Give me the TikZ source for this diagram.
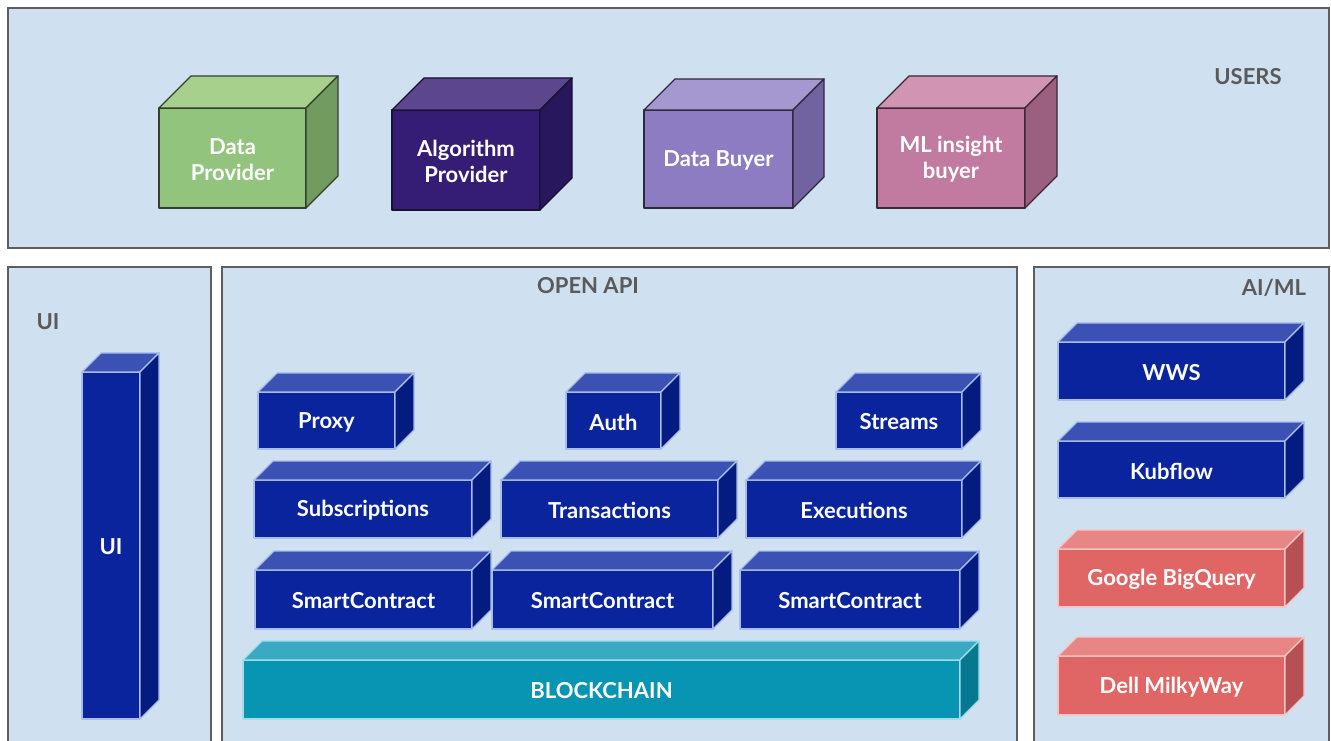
\documentclass[tikz,border=0pt]{standalone}
\usepackage{fontspec}
\setmainfont{Lato}

% panel colours
\definecolor{panelfill}{HTML}{CFE0F1}
\definecolor{paneledge}{HTML}{5E5E5E}
\definecolor{titlegray}{HTML}{5A5A5A}
% palettes: F = front, T = top, S = side, E = edge
\definecolor{grnF}{HTML}{93C47D}\definecolor{grnT}{HTML}{A8D08D}\definecolor{grnS}{HTML}{729B60}\definecolor{grnE}{HTML}{33402C}
\definecolor{indF}{HTML}{351C75}\definecolor{indT}{HTML}{5C478F}\definecolor{indS}{HTML}{28175C}\definecolor{indE}{HTML}{1A1030}
\definecolor{lavF}{HTML}{8E7CC3}\definecolor{lavT}{HTML}{A597D0}\definecolor{lavS}{HTML}{70639F}\definecolor{lavE}{HTML}{2E2A3C}
\definecolor{pnkF}{HTML}{C27BA0}\definecolor{pnkT}{HTML}{D194B3}\definecolor{pnkS}{HTML}{9B6080}\definecolor{pnkE}{HTML}{3C2834}
\definecolor{bluF}{HTML}{0A249E}\definecolor{bluT}{HTML}{3B51B4}\definecolor{bluS}{HTML}{041B7F}\definecolor{bluE}{HTML}{A9BDE9}
\definecolor{tealF}{HTML}{0895B3}\definecolor{tealT}{HTML}{3AA9C3}\definecolor{tealS}{HTML}{06788F}\definecolor{tealE}{HTML}{A3DDEA}
\definecolor{redF}{HTML}{E06666}\definecolor{redT}{HTML}{E88585}\definecolor{redS}{HTML}{B65052}\definecolor{redE}{HTML}{F6C6C6}

\tikzset{
  panelbox/.style={fill=panelfill, draw=paneledge, line width=1.1pt},
  paneltitle/.style={text=titlegray, font=\fontsize{16.5}{19.5}\selectfont\bfseries, inner sep=0pt},
  face/.style={line width=1pt, line join=round},
  boxlabel/.style={text=white, font=\fontsize{16.5}{19.5}\selectfont\bfseries, align=center, inner sep=0pt}
}

% \isobox{name}{left}{top}{right}{bottom}{depth}{palette}{label}
\newcommand{\isobox}[8]{%
  \filldraw[face, fill=#7F, draw=#7E] (#2,#3) rectangle (#4,#5);
  \filldraw[face, fill=#7T, draw=#7E] (#2,#3) -- ({#2+#6},{#3-#6}) -- ({#4+#6},{#3-#6}) -- (#4,#3) -- cycle;
  \filldraw[face, fill=#7S, draw=#7E] (#4,#3) -- ({#4+#6},{#3-#6}) -- ({#4+#6},{#5-#6}) -- (#4,#5) -- cycle;
  \node[boxlabel] (#1) at ({(#2+#4)/2},{(#3+#5)/2+1.5}) {#8};
}

\begin{document}
\begin{tikzpicture}[x=0.75pt, y=-0.75pt]
  \useasboundingbox (0,0) rectangle (1331,741);
  \fill[white] (0,0) rectangle (1331,741);
  \clip (0,0) rectangle (1331,741);

  % layer panels
  \draw[panelbox] (8,8) rectangle (1329,248);
  \draw[panelbox] (8,267) rectangle (211,770);
  \draw[panelbox] (222,267) rectangle (1017,770);
  \draw[panelbox] (1034,267) rectangle (1329,770);

  \node[paneltitle] (tUsers) at (1248,77) {USERS};
  \node[paneltitle] (tUI)    at (48,322)  {UI};
  \node[paneltitle] (tApi)   at (588,286) {OPEN API};
  \node[paneltitle] (tAiml)  at (1274,288) {AI/ML};

  % users
  \isobox{dataprov}{159}{108}{306}{208}{32}{grn}{Data\\Provider}
  \isobox{algoprov}{392}{110}{540}{210}{32}{ind}{Algorithm\\Provider}
  \isobox{databuy}{644}{110}{793}{208}{31}{lav}{Data Buyer}
  \isobox{mlbuy}{877}{108}{1025}{208}{32}{pnk}{ML insight\\buyer}

  % ui column
  \isobox{ui}{82}{372}{140}{719}{19}{blu}{UI}

  % open api stack
  \isobox{proxy}{258}{392}{395}{449}{19}{blu}{Proxy}
  \isobox{auth}{566}{392}{661}{449}{19}{blu}{Auth}
  \isobox{streams}{836}{392}{962}{449}{19}{blu}{Streams}
  \isobox{subs}{254}{480}{472}{538}{19}{blu}{Subscriptions}
  \isobox{trans}{501}{480}{718}{538}{19}{blu}{Transactions}
  \isobox{exec}{746}{480}{962}{538}{19}{blu}{Executions}
  \isobox{sc1}{255}{570}{472}{629}{19}{blu}{SmartContract}
  \isobox{sc2}{492}{570}{713}{629}{19}{blu}{SmartContract}
  \isobox{sc3}{740}{570}{960}{629}{19}{blu}{SmartContract}
  \isobox{chain}{243}{660}{960}{719}{19}{teal}{BLOCKCHAIN}

  % ai/ml services
  \isobox{wws}{1058}{342}{1285}{400}{19}{blu}{WWS}
  \isobox{kub}{1058}{441}{1285}{498}{19}{blu}{Kubflow}
  \isobox{bq}{1058}{549}{1285}{607}{19}{red}{Google BigQuery}
  \isobox{dell}{1058}{656}{1285}{715}{19}{red}{Dell MilkyWay}
\end{tikzpicture}
\end{document}
